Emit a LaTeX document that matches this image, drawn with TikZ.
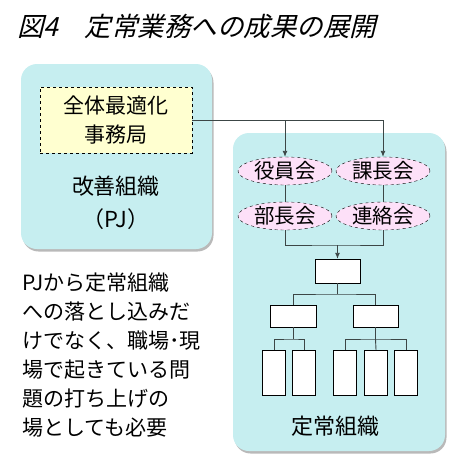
\documentclass[tikz,border=0pt]{standalone}
\usepackage{fontspec}
\setmainfont{Noto Sans CJK JP}
\newfontfamily\titlefont[FakeSlant=0.25]{Noto Sans CJK JP}
\usetikzlibrary{arrows.meta,shapes.geometric,shadows}

\definecolor{orgcyan}{RGB}{198,238,240}
\definecolor{boxyellow}{RGB}{255,255,208}
\definecolor{kaipink}{RGB}{253,224,248}
\definecolor{linegray}{RGB}{60,70,70}

\tikzset{
  orgbox/.style={draw=none, fill=orgcyan, rounded corners=16pt, inner sep=0pt,
    drop shadow={shadow xshift=1.5pt, shadow yshift=-2.5pt, opacity=.55, fill=gray}},
  jimbox/.style={draw, dashed, fill=boxyellow, inner sep=0pt, align=center,
    font=\fontsize{21}{29}\selectfont},
  kaigi/.style={ellipse, draw, dashed, fill=kaipink, inner sep=0pt,
    minimum width=94pt, minimum height=28pt, font=\fontsize{20.5}{24}\selectfont},
  postbox/.style={draw, fill=white, inner sep=0pt},
  lbl/.style={font=\fontsize{22}{28}\selectfont},
  conn/.style={draw=linegray, line width=.9pt},
  arr/.style={conn, -{Latex[length=6pt,width=5pt]}}
}

\begin{document}
\begin{tikzpicture}[x=1pt,y=-1pt]
    \useasboundingbox (0,0) rectangle (453,459);

    % title
    \node[anchor=west, inner sep=0pt, font=\titlefont\fontsize{26.5}{30}\selectfont] (title) at (17,27) {図4　定常業務への成果の展開};

    % improvement organisation
    \node[orgbox, minimum width=191pt, minimum height=185pt] (kaizen) at (116.5,156.5) {};
    \node[jimbox, minimum width=152pt, minimum height=66pt] (jim) at (116,120) {全体最適化\\事務局};
    \node[lbl] (kname) at (116,186) {改善組織};
    \node[lbl] (pj) at (116,219) {（PJ）};

    % regular organisation
    \node[orgbox, minimum width=212pt, minimum height=318pt] (teijo) at (339,292) {};
    \node[kaigi] (yaku) at (285,171) {役員会};
    \node[kaigi] (kacho) at (383,171) {課長会};
    \node[kaigi] (bucho) at (285,216) {部長会};
    \node[kaigi] (renraku) at (383,216) {連絡会};

    \node[postbox, minimum width=45pt, minimum height=24pt] (top) at (337.5,271) {};
    \node[postbox, minimum width=46pt, minimum height=22pt] (m1) at (293,316) {};
    \node[postbox, minimum width=45pt, minimum height=22pt] (m2) at (375.5,316) {};
    \node[postbox, minimum width=23pt, minimum height=45pt] (b1) at (274,372.5) {};
    \node[postbox, minimum width=23pt, minimum height=45pt] (b2) at (304,372.5) {};
    \node[postbox, minimum width=23pt, minimum height=45pt] (b3) at (345,372.5) {};
    \node[postbox, minimum width=23pt, minimum height=45pt] (b4) at (376,372.5) {};
    \node[postbox, minimum width=23pt, minimum height=45pt] (b5) at (406,372.5) {};
    \node[lbl] (tname) at (335,426) {定常組織};

    % connectors
    \coordinate (j1) at (yaku.north |- jim.east);
    \draw[conn] (jim.east) -- (j1);
    \draw[arr] (j1) -| (kacho.north);
    \draw[arr] (j1) -- (yaku.north);
    \draw[conn] (yaku) -- (bucho);
    \draw[conn] (kacho) -- (renraku);
    \coordinate (mj) at (337.5,245);
    \draw[conn] (bucho.south) |- (mj) -| (renraku.south);
    \draw[arr] (mj) -- (top.north);
    \coordinate (t1) at (337.5,294);
    \draw[conn] (top.south) -- (t1);
    \draw[conn] (m1.north) |- (t1) -| (m2.north);
    \coordinate (t2) at (293,339);
    \draw[conn] (m1.south) -- (t2);
    \draw[conn] (b1.north) |- (t2) -| (b2.north);
    \coordinate (t3) at (375.5,339);
    \draw[conn] (m2.south) -- (t3) -- (b4.north);
    \draw[conn] (b3.north) |- (t3) -| (b5.north);

    % note
    \node[anchor=north west, inner sep=0pt, align=left, font=\fontsize{21}{29}\selectfont] (note) at (22,273)
      {PJから定常組織\\への落とし込みだ\\けでなく、職場･現\\場で起きている問\\題の打ち上げの\\場としても必要};
\end{tikzpicture}
\end{document}
